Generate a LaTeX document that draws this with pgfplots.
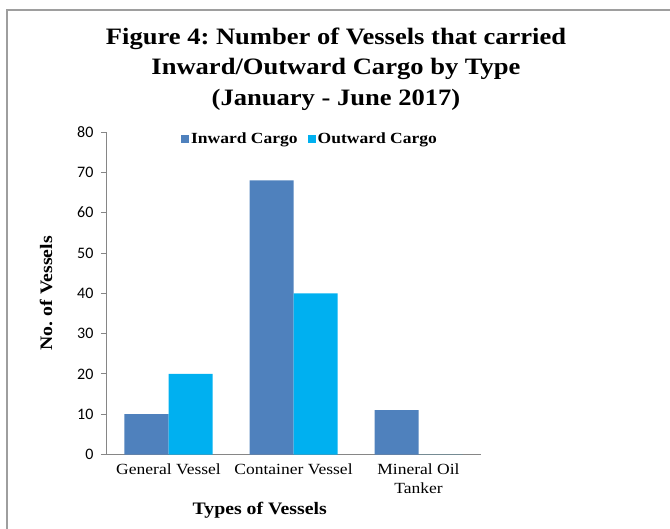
\documentclass[border=0pt]{standalone}
\usepackage{pgfplots}
\pgfplotsset{compat=1.18}
\usepackage{fontspec}
\setmainfont[FakeStretch=1.13]{Liberation Serif}
\newfontfamily\tickfont{Carlito}
\definecolor{inward}{HTML}{4F81BD}
\definecolor{outward}{HTML}{00B0F0}
\definecolor{axisgray}{HTML}{868686}
\frenchspacing
\begin{document}
\begin{tikzpicture}[x=1pt,y=1pt]
\useasboundingbox (0,0) rectangle (670,528);
\draw[color=axisgray!80, line width=1.5pt] (7,-2) -- (7,518) -- (672,518);
\node[align=center, font=\fontsize{23.5}{30.5}\selectfont\bfseries] at (336,459) {Figure 4: Number of Vessels that carried\\Inward/Outward Cargo by Type\\(January - June 2017)};
\begin{axis}[
  at={(106pt,73.5pt)}, anchor=south west,
  scale only axis, width=375pt, height=322.5pt,
  ymin=0, ymax=80, xmin=-0.5, xmax=2.5,
  ybar=0pt, bar width=44pt,
  axis x line*=bottom, axis y line*=left,
  axis line style={axisgray, line width=0.8pt},
  tick style={axisgray, line width=0.8pt},
  tick align=outside,
  /pgf/number format/assume math mode=true,
  ytick={0,10,...,80},
  yticklabel style={font=\fontsize{16}{19}\selectfont\tickfont, xshift=-4pt},
  major tick length=5pt,
  xtick={0,1,2},
  xticklabels={General Vessel, Container Vessel, {Mineral Oil\\Tanker}},
  xticklabel style={font=\fontsize{15.5}{19}\selectfont, align=center, yshift=-1pt},
  x tick style={draw=none},
  extra x ticks={-0.5,0.5,1.5,2.5},
  extra x tick labels={},
  extra x tick style={tick style={axisgray, line width=0.8pt}, major tick length=5pt},
  xlabel={Types of Vessels},
  xlabel style={font=\fontsize{17.5}{21}\selectfont\bfseries, at={(axis description cs:0.41,0)}, anchor=center, yshift=-55.5pt},
  ylabel={No. of Vessels},
  ylabel style={font=\fontsize{17.5}{21}\selectfont\bfseries, at={(axis description cs:0,0.5)}, anchor=center, yshift=60pt},
  legend style={at={(axis description cs:0.544,0.978)}, anchor=center, draw=none, fill=none,
    font=\fontsize{15.5}{19}\selectfont\bfseries, legend columns=2,
    /tikz/every even column/.append style={column sep=8pt}, inner sep=0pt},
  legend image code/.code={\fill[#1] (0pt,-4pt) rectangle (8pt,4pt);},
  clip=false,
]
\addplot[fill=inward, draw=none] coordinates {(0,10) (1,68) (2,11)};
\addplot[fill=outward, draw=none] coordinates {(0,20) (1,40) (2,0)};
\legend{Inward Cargo, Outward Cargo}
\end{axis}
\end{tikzpicture}
\end{document}
